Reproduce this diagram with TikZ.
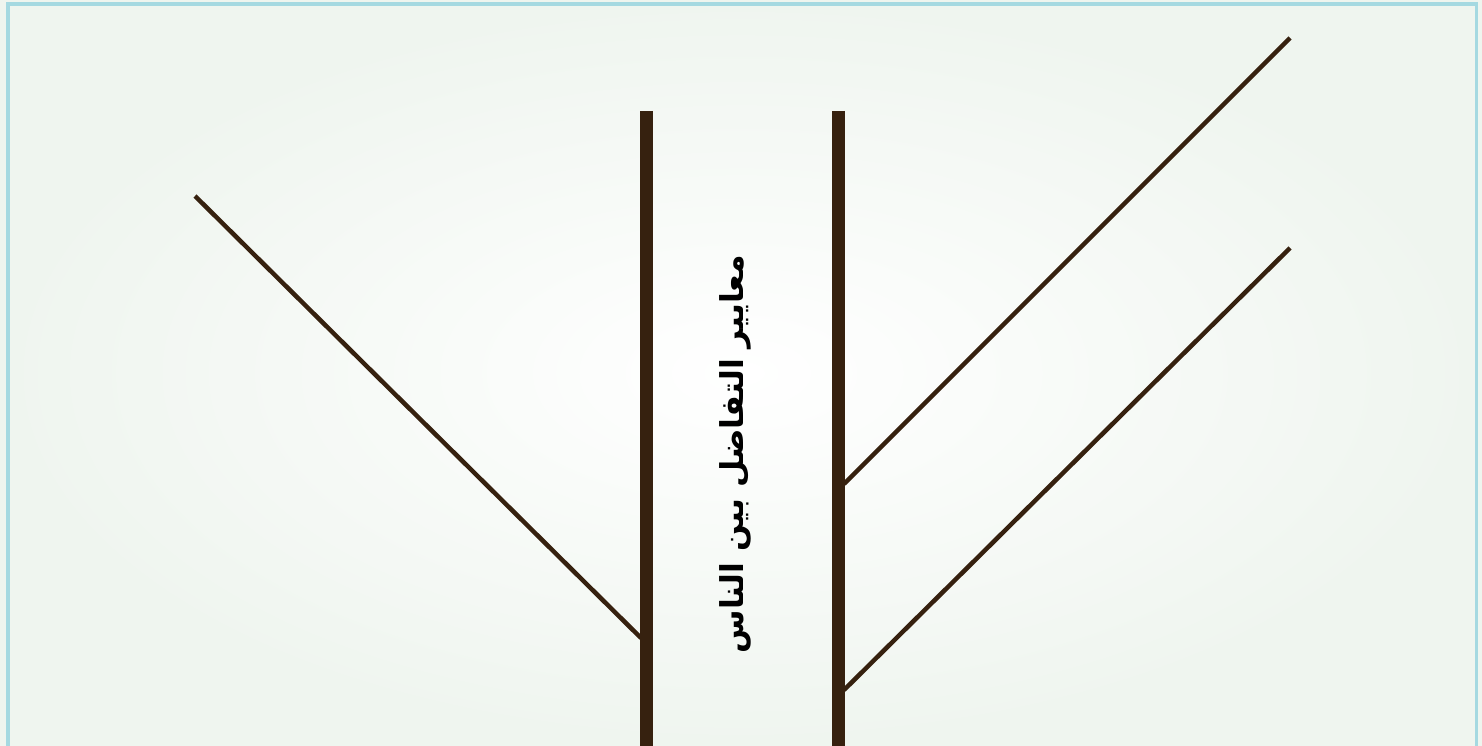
\documentclass[tikz,border=0pt]{standalone}
\usepackage{fontspec}
\newfontfamily\arabicfont[Script=Arabic]{DejaVu Sans}
\TeXXeTstate=1
\definecolor{barbrown}{RGB}{54,33,15}
\definecolor{framecyan}{RGB}{165,217,225}
\definecolor{bgedge}{RGB}{239,245,239}
\tikzset{
  trunk/.style={draw=barbrown,line width=13pt,line cap=butt},
  branch/.style={draw=barbrown,line width=4.5pt,line cap=butt},
  label/.style={font=\arabicfont\bfseries\fontsize{31.5}{34}\selectfont,text=black,rotate=90,inner sep=0pt}
}
\begin{document}
\begin{tikzpicture}[x=1pt,y=-1pt]
\useasboundingbox (0,0) rectangle (1482,746);
\shade[inner color=white,outer color=bgedge] (0,0) rectangle (1482,746);
\draw[framecyan,line width=3.2pt] (8,4) -- (1476.5,4) -- (1476.5,760) -- (8,760) -- cycle;
% trunks
\coordinate (lt) at (646.5,111);
\coordinate (lb) at (646.5,746);
\coordinate (rt) at (838.5,111);
\coordinate (rb) at (838.5,746);
\draw[trunk] (lt) -- (lb);
\draw[trunk] (rt) -- (rb);
% branches
\coordinate (l1s) at (195,196);
\coordinate (l1e) at (641,638);
\coordinate (r1s) at (844,484);
\coordinate (r1e) at (1290,38);
\coordinate (r2s) at (844,690);
\coordinate (r2e) at (1290,248);
\draw[branch] (l1s) -- (l1e);
\draw[branch] (r1s) -- (r1e);
\draw[branch] (r2s) -- (r2e);
\node[label] (title) at (735,454) {\beginR معايير التفاضل بين الناس\endR};
\end{tikzpicture}
\end{document}
